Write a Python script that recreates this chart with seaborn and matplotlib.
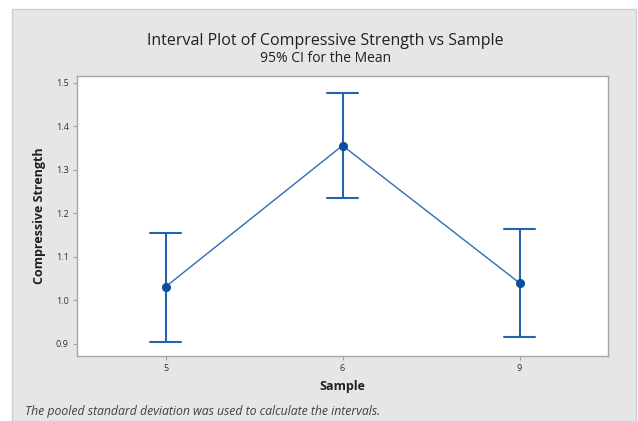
import matplotlib
matplotlib.use("Agg")
import matplotlib.pyplot as plt
import seaborn as sns
import pandas as pd
from matplotlib.patches import Rectangle

# Data
samples = ["5", "6", "9"]
means = [1.031, 1.356, 1.040]
lower = [0.905, 1.235, 0.915]
upper = [1.155, 1.478, 1.164]
yticks = [0.9, 1.0, 1.1, 1.2, 1.3, 1.4, 1.5]

rows = []
for s, lo, m, hi in zip(samples, lower, means, upper):
    for v in (lo, m, hi):
        rows.append({"Sample": s, "Compressive Strength": v})
df = pd.DataFrame(rows)

sns.set_theme(style="white")
plt.rcParams["font.family"] = ["Open Sans", "DejaVu Sans"]

fig = plt.figure(figsize=(6.38, 4.21), dpi=100)
fig.patch.set_facecolor("white")
bg = Rectangle((12 / 638, 0), (636 - 12) / 638, (421 - 9) / 421,
               transform=fig.transFigure, facecolor="#e6e6e6",
               edgecolor="#cfcfcf", linewidth=1.0, zorder=-10)
fig.patches.append(bg)

ax = fig.add_axes([77 / 638, (421 - 356) / 421, 531 / 638, 280 / 421])
ax.set_facecolor("white")
ax.set_zorder(5)

line_color = "#2f6db5"
sns.pointplot(data=df, x="Sample", y="Compressive Strength", order=samples,
              estimator="median", errorbar=("pi", 100), capsize=0.175,
              color=line_color, markers="o", linestyles="-",
              err_kws={"linewidth": 1.5, "color": "#2463ae"},
              ax=ax)
for ln in ax.lines:
    if len(ln.get_xdata()) == 3:
        ln.set_linewidth(1.0)
        ln.set_markerfacecolor("#0a4f9e")
        ln.set_markeredgecolor("#0a4f9e")
        ln.set_markersize(4.5)
        ln.set_zorder(3)

ax.set_xlim(-0.5, 2.5)
ax.set_ylim(0.872, 1.516)
ax.set_yticks(yticks)
ax.set_yticklabels([f"{t:.1f}" for t in yticks])

for sp in ax.spines.values():
    sp.set_color("#a6a6a6")
    sp.set_linewidth(1.0)

ax.tick_params(axis="both", which="both", length=3, width=0.8, color="#a0a0a0",
               labelsize=6.5, labelcolor="#303030", direction="out", pad=3,
               left=True, bottom=True)

ax.set_xlabel("Sample", fontsize=9, fontweight="bold", color="#202020", labelpad=5)
ax.set_ylabel("Compressive Strength", fontsize=9, fontweight="bold", color="#202020", labelpad=7)

fig.text(325 / 638, 1 - 41 / 421, "Interval Plot of Compressive Strength vs Sample",
         ha="center", va="center", fontsize=11.5, color="#202020")
fig.text(326 / 638, 1 - 58 / 421, "95% CI for the Mean",
         ha="center", va="center", fontsize=10, color="#202020")
fig.text(25 / 638, 1 - 411 / 421,
         "The pooled standard deviation was used to calculate the intervals.",
         ha="left", va="center", fontsize=8.8, style="italic", color="#404040")

fig.savefig("out.png", dpi=100, facecolor=fig.get_facecolor())
